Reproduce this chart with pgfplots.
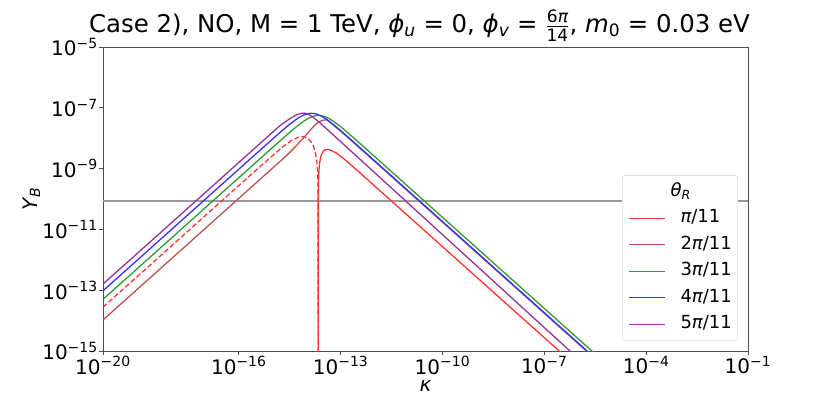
\documentclass[border=0pt]{standalone}
\usepackage{fontspec}
\setmainfont{DejaVu Sans}
\usepackage{amsmath}
\usepackage{pgfplots}
\pgfplotsset{compat=1.18}

\definecolor{cRed}{HTML}{FF3333}
\definecolor{cBrown}{HTML}{B75555}
\definecolor{cGreen}{HTML}{339933}
\definecolor{cBlue}{HTML}{3333FF}
\definecolor{cPurple}{HTML}{993399}
\definecolor{cLine}{HTML}{9A9A9A}

\newcommand{\ten}[1]{10\textsuperscript{−#1}}

\begin{document}
\begin{tikzpicture}
\path[use as bounding box] (-103pt,-43pt) rectangle (728pt,351pt);
\begin{axis}[
    scale only axis, width=645pt, height=304pt,
    at={(0,0)}, anchor=south west,
    xmode=log, ymode=log,
    xmin=1e-20, xmax=1e-1, ymin=1e-15, ymax=1e-5,
    xtick={1e-20,1e-16,1e-13,1e-10,1e-7,1e-4,1e-1},
    xticklabels={\ten{20},\ten{16},\ten{13},\ten{10},\ten{7},\ten{4},\ten{1}},
    ytick={1e-15,1e-13,1e-11,1e-9,1e-7,1e-5},
    yticklabels={\ten{15},\ten{13},\ten{11},\ten{9},\ten{7},\ten{5}},
    xminorticks=false, yminorticks=false,
    tick align=outside, tick pos=left,
    major tick length=4pt,
    axis line style={black!70, line width=0.8pt},
    every tick/.style={black!70, line width=0.8pt},
    ticklabel style={font=\fontsize{20}{24}\selectfont},
    xticklabel style={inner sep=1pt, text depth=0pt},
    yticklabel style={inner sep=1pt},
    title={Case 2), NO, M = 1 TeV, {\itshape ϕ}\textsubscript{\itshape u} = 0, {\itshape ϕ}\textsubscript{\itshape v} = $\frac{\text{6{\itshape π}}}{\text{14}}$, {\itshape m}\textsubscript{0} = 0.03 eV},
    title style={at={(axis description cs:0.4907,1.028)}, anchor=base, inner sep=0pt,
                 font=\fontsize{24.4}{28}\selectfont},
    xlabel={\itshape κ},
    xlabel style={at={(axis description cs:0.5,-0.1316)}, anchor=base, inner sep=0pt,
                  text height=11pt, text depth=0pt,
                  font=\fontsize{20}{24}\selectfont},
    ylabel={{\itshape Y}\textsubscript{\itshape B}},
    ylabel style={at={(axis description cs:-0.1023,0.5)}, anchor=base, rotate=0, inner sep=0pt,
                  font=\fontsize{20}{24}\selectfont},
    legend cell align=left,
    legend image code/.code={\draw[#1] (0pt,0pt) -- (36pt,0pt);},
    legend style={at={(axis description cs:0.9845,0.0329)}, anchor=south east,
                  draw=black!20, fill=white, rounded corners=3pt,
                  font=\fontsize{18}{18}\selectfont,
                  inner xsep=6pt, inner ysep=8pt, row sep=9.5pt, column sep=15pt,
                  nodes={inner sep=0pt, text height=13pt, text depth=4pt}},
]
\addlegendimage{empty legend}
\addlegendentry{\hspace*{-10pt}{\itshape θ}\textsubscript{\itshape R}}

% observed value
\addplot[forget plot, cLine, line width=1.4pt] coordinates {(1e-20,8.7e-11) (1e-1,8.7e-11)};

% theta_R = pi/11 : positive branch solid, negative branch dashed
\addplot[cRed, line width=1.3pt] coordinates {
  (2.1903e-14,1e-16) (2.2130e-14,2.138e-10) (2.2387e-14,4.169e-10) (2.2909e-14,7.943e-10)
  (2.3988e-14,1.479e-9) (2.5704e-14,2.344e-9) (2.7542e-14,3.020e-9) (3.0903e-14,3.715e-9)
  (3.4674e-14,4.169e-9) (4.3652e-14,4.266e-9) (5.4954e-14,3.890e-9) (7.7625e-14,3.162e-9)
  (1.2303e-13,2.138e-9) (2.1878e-13,1.230e-9) (5.4954e-7,5.012e-16)};
\addlegendentry{{\itshape π}/11}
\addplot[forget plot, cRed, line width=1.3pt, dash pattern=on 5pt off 2.5pt] coordinates {
  (1e-20,2.754e-14) (3.981e-16,1.0965e-9) (1e-15,2.6915e-9) (1.995e-15,5.248e-9)
  (3.548e-15,8.318e-9) (5.623e-15,1.0715e-8) (7.943e-15,1.122e-8) (1.0471e-14,1e-8)
  (1.3183e-14,7.943e-9) (1.5849e-14,5.495e-9) (1.8197e-14,3.311e-9) (1.9953e-14,1.698e-9)
  (2.0893e-14,8.511e-10) (2.1380e-14,4.266e-10) (2.1627e-14,2.138e-10) (2.1853e-14,1e-16)};

\addplot[cBrown, line width=1.3pt] coordinates {
  (1e-20,1.047e-14) (2.512e-15,2.630e-9) (4.467e-15,5.012e-9) (7.943e-15,1e-8)
  (1.259e-14,1.820e-8) (1.778e-14,2.754e-8) (2.399e-14,3.548e-8) (3.162e-14,3.981e-8)
  (3.981e-14,3.981e-8) (5.012e-14,3.236e-8) (6.166e-14,2.685e-8) (1.0965e-13,1.560e-8)
  (2.754e-13,6.295e-9) (3.467e-6,5.012e-16)};
\addlegendentry{2{\itshape π}/11}

\addplot[cGreen, line width=1.3pt] coordinates {
  (1e-20,5.012e-14) (1.122e-15,5.610e-9) (2.818e-15,1.390e-8) (5.012e-15,2.393e-8)
  (7.943e-15,3.536e-8) (1.122e-14,4.498e-8) (1.413e-14,5.064e-8) (1.778e-14,5.464e-8)
  (2.239e-14,5.610e-8) (2.818e-14,5.464e-8) (3.548e-14,5.064e-8) (4.467e-14,4.498e-8)
  (6.310e-14,3.536e-8) (1e-13,2.393e-8) (1.778e-13,1.390e-8) (4.467e-13,5.610e-9)
  (5.012e-6,5.012e-16)};
\addlegendentry{3{\itshape π}/11}

\addplot[cBlue, line width=1.3pt] coordinates {
  (1e-20,9.550e-14) (6.918e-16,6.592e-9) (1.738e-15,1.633e-8) (3.090e-15,2.810e-8)
  (4.898e-15,4.155e-8) (6.918e-15,5.281e-8) (8.710e-15,5.950e-8) (1.0965e-14,6.419e-8)
  (1.380e-14,6.592e-8) (1.738e-14,6.419e-8) (2.188e-14,5.950e-8) (2.754e-14,5.281e-8)
  (3.890e-14,4.155e-8) (6.166e-14,2.810e-8) (1.0965e-13,1.633e-8) (2.754e-13,6.592e-9)
  (3.631e-6,5.012e-16)};
\addlegendentry{4{\itshape π}/11}

\addplot[cPurple, line width=1.3pt] coordinates {
  (1e-20,1.585e-13) (1.585e-15,2.512e-8) (3.162e-15,4.365e-8) (5.012e-15,5.888e-8)
  (7.079e-15,6.607e-8) (8.913e-15,6.683e-8) (1.122e-14,6.166e-8) (1.585e-14,4.786e-8)
  (2.512e-14,3.162e-8) (1.122e-6,5.012e-16)};
\addlegendentry{5{\itshape π}/11}
\end{axis}
\end{tikzpicture}
\end{document}
